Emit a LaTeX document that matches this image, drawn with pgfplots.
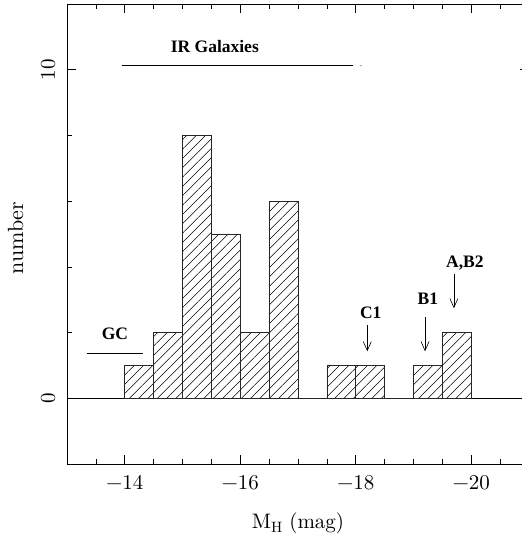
\documentclass[border=0pt]{standalone}
\usepackage{fontspec}
\newfontfamily\tnr{Liberation Serif}
\newfontfamily\lmten{lmroman10-regular}[Extension=.otf]
\usepackage{pgfplots}
\pgfplotsset{compat=1.18}
\usetikzlibrary{arrows.meta,patterns.meta}
\begin{document}
\begin{tikzpicture}
\begin{axis}[name=ax, scale only axis, width=462bp, height=460bp,
  x dir=reverse, xmin=-21, xmax=-13, ymin=-2, ymax=12,
  xtick={-20,-18,-16,-14}, xticklabels={−20,−18,−16,−14},
  minor xtick={-20.5,-19.5,-19,-18.5,-17.5,-17,-16.5,-15.5,-15,-14.5,-13.5},
  ytick={0,10}, yticklabels={0,10}, minor ytick={2,4,6,8},
  major tick length=9bp, minor tick length=5bp,
  tick style={black, line width=0.6bp},
  axis line style={line width=0.6bp},
  xticklabel style={font=\lmten\fontsize{21bp}{21bp}\selectfont, anchor=base, yshift=-25.5bp},
  yticklabel style={font=\lmten\fontsize{21bp}{21bp}\selectfont, xshift=-12bp, rotate=90, anchor=base},
]
\addplot[black, line width=0.6bp] coordinates {(-21,0) (-13,0)};
\addplot[ybar interval, draw=black!85, line width=0.7bp,
  pattern={Lines[angle=45,distance=6.6bp,line width=0.55bp]}, pattern color=black]
  coordinates {(-20,2) (-19.5,1) (-19,0) (-18.5,1) (-18,1) (-17.5,0) (-17,6) (-16.5,2) (-16,5) (-15.5,8) (-15,2) (-14.5,1) (-14,0)};
\addplot[black, line width=0.7bp] coordinates {(-13.96,10.12) (-17.95,10.12)};
\addplot[only marks, mark=*, mark size=0.4bp, black!60] coordinates {(-18.09,10.12)};
\addplot[black, line width=0.7bp] coordinates {(-13.34,1.37) (-14.32,1.37)};
\draw[-{Straight Barb[length=9bp,width=8bp]}, line width=0.6bp] (axis cs:-18.2,2.22) -- (axis cs:-18.2,1.43);
\draw[-{Straight Barb[length=9bp,width=8bp]}, line width=0.6bp] (axis cs:-19.2,2.47) -- (axis cs:-19.2,1.43);
\draw[-{Straight Barb[length=9bp,width=8bp]}, line width=0.6bp] (axis cs:-19.7,3.77) -- (axis cs:-19.7,2.74);
\node[font=\tnr\bfseries\fontsize{17.5bp}{17.5bp}\selectfont] at (axis cs:-15.56,10.71) {IR Galaxies};
\node[font=\tnr\bfseries\fontsize{17.5bp}{17.5bp}\selectfont] at (axis cs:-13.83,1.95) {GC};
\node[font=\tnr\bfseries\fontsize{17.5bp}{17.5bp}\selectfont] at (axis cs:-18.26,2.59) {C1};
\node[font=\tnr\bfseries\fontsize{17.5bp}{17.5bp}\selectfont] at (axis cs:-19.25,3.02) {B1};
\node[font=\tnr\bfseries\fontsize{17.5bp}{17.5bp}\selectfont] at (axis cs:-19.89,4.12) {A,B2};
\end{axis}
\node[rotate=90, anchor=base, font=\lmten\fontsize{22bp}{22bp}\selectfont] at ([xshift=-44bp,yshift=-4bp]ax.west) {number};
\node[anchor=base, font=\lmten\fontsize{21bp}{21bp}\selectfont] at ([yshift=-64bp]ax.south) {M\raisebox{-4bp}{\fontsize{15bp}{15bp}\selectfont H} (mag)};
\pgfresetboundingbox
\path ([xshift=-67bp,yshift=-73bp]ax.south west) rectangle ([xshift=-7bp,yshift=4bp]ax.north east);
\end{tikzpicture}
\end{document}
